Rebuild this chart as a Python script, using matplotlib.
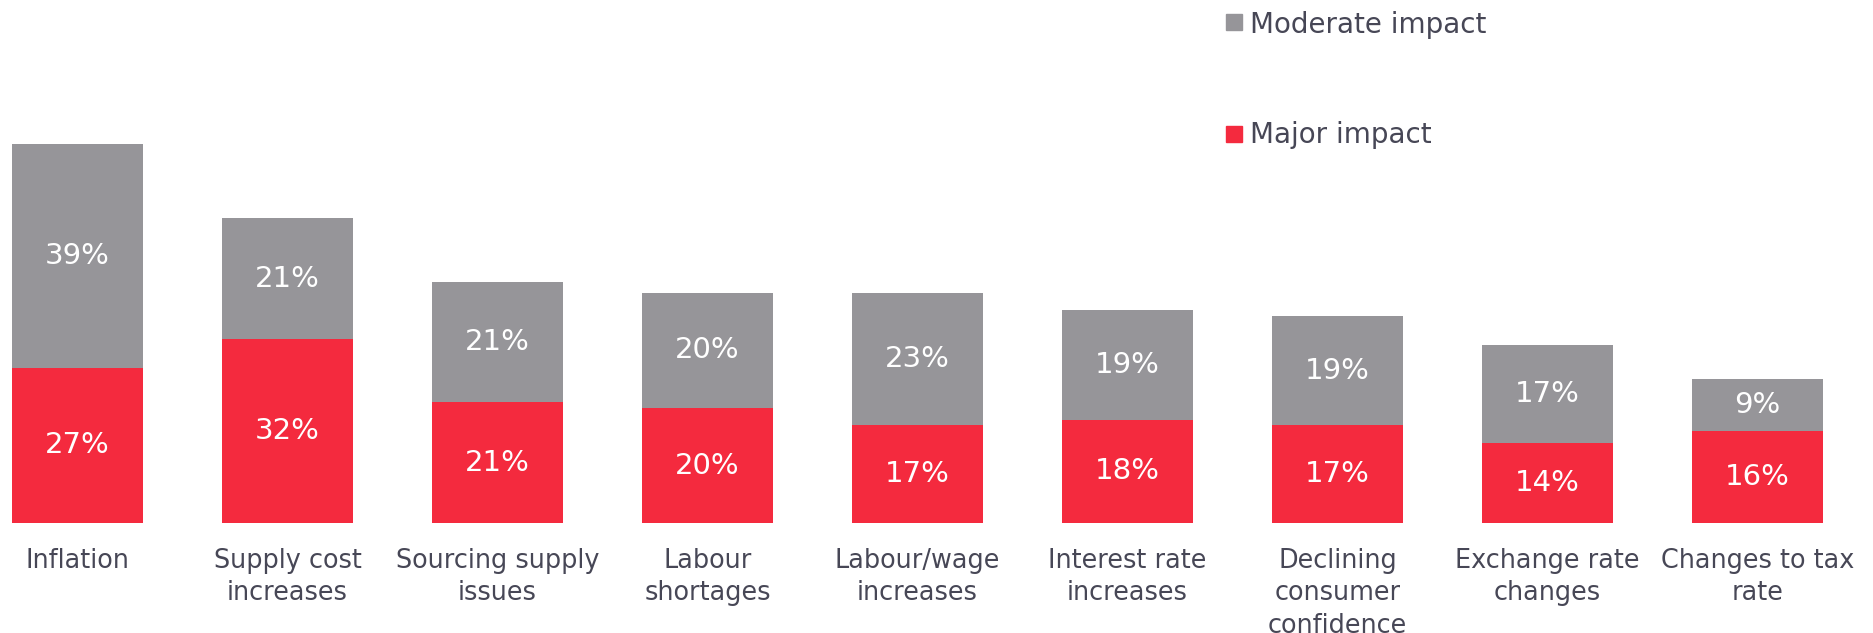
import matplotlib
matplotlib.use("Agg")
import matplotlib.pyplot as plt
import numpy as np

categories = [
    "Inflation",
    "Supply cost\nincreases",
    "Sourcing supply\nissues",
    "Labour\nshortages",
    "Labour/wage\nincreases",
    "Interest rate\nincreases",
    "Declining\nconsumer\nconfidence",
    "Exchange rate\nchanges",
    "Changes to tax\nrate",
]
major_impact = [27, 32, 21, 20, 17, 18, 17, 14, 16]
moderate_impact = [39, 21, 21, 20, 23, 19, 19, 17, 9]

RED = "#f42a3e"
GREY = "#969599"
TEXT = "#474756"

plt.rcParams["font.family"] = ["DejaVu Sans"]

W, H = 1874, 633
fig = plt.figure(figsize=(W / 100, H / 100), dpi=100)

# axes spans the full width; the baseline sits 523 px from the top
base_px = 523
ax = fig.add_axes([0, (H - base_px) / H, 1, base_px / H])
step_px = 210.0
first_center = 77.5
ax.set_xlim(-first_center / step_px, (W - first_center) / step_px)
ax.set_ylim(0, base_px / 5.75)
ax.axis("off")

x = np.arange(len(categories))
width = 131 / step_px
ax.bar(x, major_impact, width, color=RED, label="Major impact")
ax.bar(x, moderate_impact, width, bottom=major_impact, color=GREY,
       label="Moderate impact")

for xi, m, d in zip(x, major_impact, moderate_impact):
    ax.text(xi, m / 2, f"{m}%", ha="center", va="center", color="white",
            fontsize=21)
    ax.text(xi, m + d / 2, f"{d}%", ha="center", va="center", color="white",
            fontsize=21)

for xi, lab in zip(x, categories):
    ax.annotate(lab, xy=(xi, 0), xytext=(0, -18), textcoords="offset points",
                ha="center", va="top", color=TEXT, fontsize=18.4,
                linespacing=1.32, annotation_clip=False)

# legend drawn as squares + labels in figure pixels
def fig_px(px, py):
    return px / W, 1 - py / H

for (sq_top, base, color, label) in [(14, 33, GREY, "Moderate impact"),
                                     (126, 143, RED, "Major impact")]:
    x0, y0 = fig_px(1226, sq_top + 16)
    fig.patches.append(plt.Rectangle((x0, y0), 16 / W, 16 / H, color=color,
                                     transform=fig.transFigure, figure=fig))
    tx, ty = fig_px(1250, base)
    fig.text(tx, ty, label, ha="left", va="baseline", color=TEXT, fontsize=20)

fig.savefig("out.png", dpi=100, facecolor="white")
